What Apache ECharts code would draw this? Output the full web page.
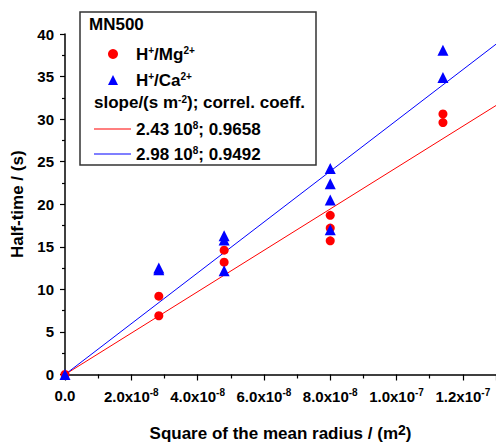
<!DOCTYPE html>
<html>
<head>
<meta charset="utf-8">
<script src="https://cdn.jsdelivr.net/npm/echarts@6/dist/echarts.min.js"></script>
<style>
html,body{margin:0;padding:0;background:#fff;}
#chart{width:496px;height:447px;}
</style>
</head>
<body>
<div id="chart"></div>
<script>
// Data
var mgX = [0, 2.83e-8, 2.83e-8, 4.8e-8, 4.8e-8, 8.0e-8, 8.0e-8, 8.0e-8, 1.14e-7, 1.14e-7];
var mgY = [0, 9.2, 6.9, 14.6, 13.2, 18.7, 17.2, 15.7, 30.6, 29.6];
var caX = [0, 2.83e-8, 2.83e-8, 4.8e-8, 4.8e-8, 4.8e-8, 8.0e-8, 8.0e-8, 8.0e-8, 8.0e-8, 1.14e-7, 1.14e-7];
var caY = [0, 12.3, 12.5, 16.3, 15.8, 12.2, 24.2, 22.4, 20.5, 17.0, 38.1, 34.9];
var fitX = [0, 1.3e-7];
var fitMgY = [0, 31.6];
var fitCaY = [0, 38.8];
var yTicks = [0, 5, 10, 15, 20, 25, 30, 35, 40];

function pairs(xs, ys) { return xs.map(function (x, i) { return [x, ys[i]]; }); }

var FONT = 'Liberation Sans, Arial, sans-serif';
var supStyle = { fontSize: 10, fontWeight: 'bold', fontFamily: FONT, color: '#000', verticalAlign: 'top', padding: [0, 0, 7, 0] };

function xFmt(v) {
  if (Math.abs(v) < 1e-20) return '0.0';
  var e = Math.floor(Math.round(Math.log10(v) * 1e6) / 1e6);
  var m = v / Math.pow(10, e);
  return m.toFixed(1) + 'x10{sup|' + e + '}';
}

var chart = echarts.init(document.getElementById('chart'), null, { renderer: 'svg' });
chart.setOption({
  animation: false,
  backgroundColor: '#fff',
  grid: { left: 65, right: 0, top: 34, bottom: 69, containLabel: false },
  xAxis: {
    type: 'value', min: 0, max: 1.3e-7, interval: 2e-8,
    name: 'Square of the mean radius / (m{sup|2})',
    nameLocation: 'middle', nameGap: 48,
    nameTextStyle: { fontSize: 17, fontWeight: 'bold', fontFamily: FONT, color: '#000',
      rich: { sup: { fontSize: 14, fontWeight: 'bold', fontFamily: FONT, color: '#000', verticalAlign: 'top', padding: [0, 0, 8, 0] } } },
    axisLine: { show: true, lineStyle: { color: '#000', width: 1.5 } },
    axisTick: { show: true, inside: false, length: 6, lineStyle: { color: '#000', width: 1.2 } },
    minorTick: { show: true, splitNumber: 2, length: 4, lineStyle: { color: '#000', width: 1.2 } },
    splitLine: { show: false },
    axisLabel: { formatter: xFmt, showMaxLabel: false, margin: 13, fontSize: 15, fontWeight: 'bold', fontFamily: FONT, color: '#000',
      rich: { sup: supStyle } }
  },
  yAxis: {
    type: 'value', min: 0, max: 40, interval: 5,
    name: 'Half-time / (s)', nameLocation: 'middle', nameGap: 36, nameRotate: 90,
    nameTextStyle: { fontSize: 17, fontWeight: 'bold', fontFamily: FONT, color: '#000' },
    axisLine: { show: true, lineStyle: { color: '#000', width: 1.5 } },
    axisTick: { show: true, inside: false, length: 5, lineStyle: { color: '#000', width: 1.2 } },
    minorTick: { show: true, splitNumber: 2, length: 3, lineStyle: { color: '#000', width: 1.2 } },
    splitLine: { show: false },
    axisLabel: { formatter: function (v) { return yTicks.indexOf(v) >= 0 ? String(v) : ''; }, margin: 11, fontSize: 15, fontWeight: 'bold', fontFamily: FONT, color: '#000' }
  },
  legend: [
    {
      data: [{ name: 'H{sup|+}/Mg{sup|2+}', icon: 'circle' }, { name: 'H{sup|+}/Ca{sup|2+}', icon: 'triangle' }],
      orient: 'vertical', left: 103, top: 40, itemWidth: 10, itemHeight: 10, itemGap: 8,
      itemStyle: { opacity: 1 },
      textStyle: { fontSize: 17, fontWeight: 'bold', fontFamily: FONT, color: '#000', lineHeight: 18, padding: [0, 0, 0, 13],
        rich: { sup: supStyle } }
    },
    {
      data: [{ name: '2.43 10{sup|8}; 0.9658', icon: 'rect' }, { name: '2.98 10{sup|8}; 0.9492', icon: 'rect' }],
      orient: 'vertical', left: 89, top: 115, itemWidth: 37, itemHeight: 1.2, itemGap: 7,
      textStyle: { fontSize: 17, fontWeight: 'bold', fontFamily: FONT, color: '#000', lineHeight: 18,
        rich: { sup: supStyle } }
    }
  ],
  graphic: [
    { type: 'rect', z: 3, shape: { x: 80, y: 12, width: 236, height: 153 },
      style: { fill: '#fff', stroke: '#333', lineWidth: 1.5 } },
    { type: 'text', z: 4, left: 89, top: 16,
      style: { text: 'MN500', fontSize: 17, fontWeight: 'bold', fontFamily: FONT, fill: '#000' } },
    { type: 'text', z: 4, left: 94, top: 94,
      style: { text: 'slope/(s m{sup|-2}); correl. coeff.', fontSize: 17, fontWeight: 'bold', fontFamily: FONT, fill: '#000',
        rich: { sup: { fontSize: 10, fontWeight: 'bold', fontFamily: FONT, fill: '#000', verticalAlign: 'top', padding: [0, 0, 7, 0] } } } }
  ],
  series: [
    { name: '2.43 10{sup|8}; 0.9658', type: 'line', data: pairs(fitX, fitMgY), symbol: 'none', z: 2,
      lineStyle: { color: '#ff0000', width: 1 }, itemStyle: { color: '#ff0000' } },
    { name: '2.98 10{sup|8}; 0.9492', type: 'line', data: pairs(fitX, fitCaY), symbol: 'none', z: 2,
      lineStyle: { color: '#0000ff', width: 1 }, itemStyle: { color: '#0000ff' } },
    { name: 'H{sup|+}/Mg{sup|2+}', type: 'scatter', data: pairs(mgX, mgY), symbol: 'circle', symbolSize: 9, z: 3,
      itemStyle: { color: '#ff0000', opacity: 1 } },
    { name: 'H{sup|+}/Ca{sup|2+}', type: 'scatter', data: pairs(caX, caY), symbol: 'triangle', symbolSize: 11, z: 3,
      itemStyle: { color: '#0000ff', opacity: 1 } }
  ]
});
</script>
</body>
</html>
